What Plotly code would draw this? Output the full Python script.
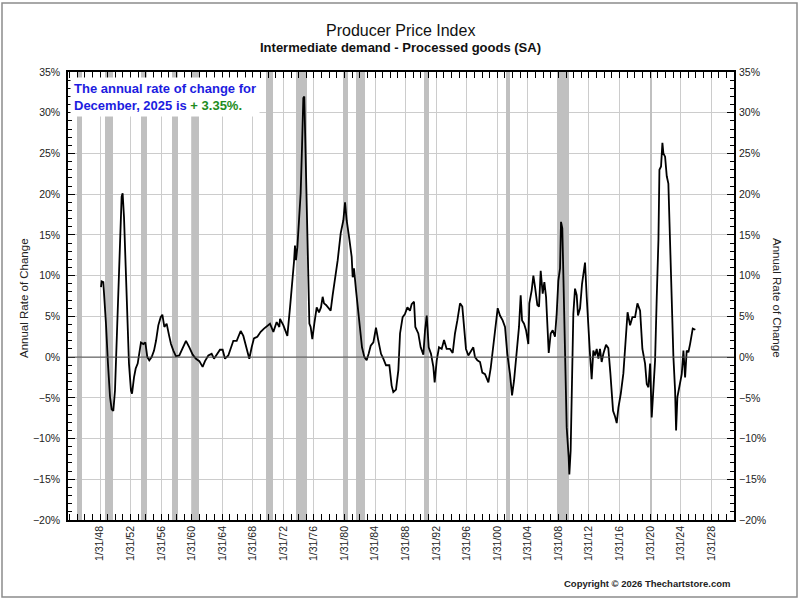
import plotly.graph_objects as go

# Annual rate of change (fractional years)
years = [
    1948.13, 1948.21, 1948.43, 1948.56, 1948.78, 1949.04, 1949.31, 1949.52, 1949.74, 1949.96,
    1950.18, 1950.40, 1950.61, 1950.83, 1950.96, 1951.14, 1951.36, 1951.57, 1951.79, 1952.05,
    1952.19, 1952.45, 1952.67, 1952.93, 1953.15, 1953.36, 1953.67, 1953.93, 1954.19, 1954.45,
    1954.76, 1955.07, 1955.33, 1955.63, 1955.94, 1956.16, 1956.42, 1956.72, 1957.03, 1957.29,
    1957.60, 1957.94, 1958.38, 1958.82, 1959.25, 1959.69, 1960.13, 1960.56, 1961.00, 1961.43,
    1961.74, 1962.18, 1962.61, 1962.92, 1963.35, 1963.70, 1964.05, 1964.36, 1964.79, 1965.14,
    1965.45, 1965.89, 1966.41, 1966.76, 1967.11, 1967.54, 1967.85, 1968.15, 1968.59, 1969.03,
    1969.46, 1969.90, 1970.25, 1970.69, 1971.12, 1971.47, 1971.56, 1972.00, 1972.52, 1972.87,
    1973.22, 1973.39, 1973.52, 1973.65, 1973.83, 1974.09, 1974.26, 1974.44, 1974.61, 1974.74,
    1974.87, 1975.05, 1975.22, 1975.40, 1975.57, 1975.79, 1976.05, 1976.36, 1976.66, 1976.92,
    1977.14, 1977.32, 1977.58, 1977.89, 1978.19, 1978.45, 1978.76, 1979.11, 1979.50, 1979.85,
    1980.07, 1980.28, 1980.59, 1980.94, 1981.07, 1981.24, 1981.51, 1981.81, 1982.03, 1982.29,
    1982.60, 1982.90, 1983.16, 1983.43, 1983.78, 1984.12, 1984.43, 1984.78, 1985.08, 1985.43,
    1985.87, 1986.17, 1986.39, 1986.74, 1987.05, 1987.27, 1987.61, 1987.92, 1988.23, 1988.57,
    1988.79, 1989.10, 1989.27, 1989.66, 1989.97, 1990.32, 1990.54, 1990.76, 1991.02, 1991.32,
    1991.63, 1991.80, 1992.07, 1992.37, 1992.72, 1993.03, 1993.37, 1993.81, 1994.16, 1994.46,
    1994.77, 1995.12, 1995.42, 1995.64, 1995.90, 1996.21, 1996.51, 1996.86, 1997.08, 1997.39,
    1997.74, 1998.04, 1998.39, 1998.83, 1999.13, 1999.48, 1999.79, 2000.05, 2000.35, 2000.70,
    2001.01, 2001.31, 2001.66, 2001.93, 2002.19, 2002.54, 2002.84, 2003.06, 2003.24, 2003.50,
    2003.76, 2004.06, 2004.19, 2004.50, 2004.72, 2004.94, 2005.24, 2005.46, 2005.68, 2005.94,
    2006.16, 2006.38, 2006.55, 2006.73, 2006.99, 2007.25, 2007.55, 2007.77, 2007.99, 2008.21,
    2008.34, 2008.51, 2008.64, 2008.82, 2009.08, 2009.34, 2009.43, 2009.60, 2009.78, 2009.95,
    2010.17, 2010.39, 2010.56, 2010.83, 2011.09, 2011.26, 2011.48, 2011.70, 2011.92, 2012.13,
    2012.35, 2012.57, 2012.79, 2013.01, 2013.23, 2013.44, 2013.66, 2013.88, 2014.23, 2014.53,
    2014.80, 2014.97, 2015.15, 2015.41, 2015.63, 2015.85, 2016.16, 2016.50, 2016.81, 2017.05,
    2017.38, 2017.68, 2018.03, 2018.34, 2018.69, 2018.99, 2019.34, 2019.56, 2019.78, 2020.00,
    2020.21, 2020.43, 2020.65, 2020.87, 2021.09, 2021.22, 2021.43, 2021.61, 2021.74, 2021.96,
    2022.18, 2022.39, 2022.61, 2022.83, 2023.05, 2023.27, 2023.40, 2023.57, 2023.83, 2024.14,
    2024.36, 2024.58, 2024.79, 2025.01, 2025.23, 2025.36, 2025.58, 2025.92,
]
rate = [
    8.6, 9.3, 9.2, 7.4, 4.1, -0.8, -4.9, -6.4, -6.6, -4.1,
    1.6, 8.2, 14.4, 19.7, 20.1, 17.2, 11.1, 4.9, -0.8, -4.1,
    -4.5, -2.5, -1.4, -0.8, 0.8, 1.8, 1.6, 1.8, 0.0, -0.4,
    0.0, 0.8, 2.0, 3.9, 4.9, 5.2, 3.7, 4.1, 2.7, 1.6,
    0.8, 0.1, 0.2, 1.2, 2.0, 1.2, 0.3, -0.2, -0.5, -1.2,
    -0.5, 0.2, 0.4, -0.2, 0.4, 0.9, 0.9, -0.2, 0.2, 1.2,
    2.0, 2.0, 3.2, 2.6, 1.4, -0.2, 1.2, 2.3, 2.5, 3.1,
    3.5, 3.9, 4.1, 3.1, 4.3, 3.7, 4.7, 3.9, 2.6, 6.1,
    9.4, 11.7, 13.7, 11.9, 13.5, 16.8, 20.1, 25.8, 31.8, 32.0,
    26.7, 19.7, 12.7, 4.1, 3.7, 2.2, 4.1, 6.1, 5.5, 6.1,
    7.4, 6.6, 6.4, 6.1, 5.7, 7.6, 9.4, 11.9, 15.2, 16.8,
    19.0, 16.8, 14.8, 12.3, 9.8, 10.9, 8.2, 5.3, 2.9, 1.2,
    0.0, -0.4, 0.4, 1.4, 1.8, 3.6, 2.0, 0.4, -0.2, -1.0,
    -1.0, -3.5, -4.3, -4.0, -1.6, 2.9, 4.9, 5.3, 6.1, 5.7,
    6.5, 6.8, 3.7, 2.9, 1.2, 0.3, 3.3, 5.1, 1.2, 0.4,
    -1.2, -3.1, -0.4, 1.2, 1.0, 2.1, 1.0, 1.0, 0.5, 2.9,
    4.5, 6.6, 6.2, 3.7, 1.0, 0.2, 0.6, 1.2, 0.0, -0.4,
    -0.6, -1.9, -2.1, -3.1, -1.4, 1.2, 3.7, 6.0, 5.1, 4.5,
    3.7, 0.4, -2.1, -4.7, -2.9, 1.0, 3.7, 7.6, 4.5, 4.1,
    3.3, 1.6, 6.6, 8.2, 10.0, 8.6, 6.4, 6.2, 10.6, 7.8,
    9.2, 7.4, 4.1, 0.5, 2.9, 3.3, 2.5, 5.3, 9.4, 10.9,
    16.6, 15.8, 10.3, 1.2, -8.6, -12.3, -14.4, -11.5, -1.2, 5.3,
    8.4, 7.6, 5.1, 6.0, 9.0, 10.5, 11.6, 7.4, 3.3, 0.4,
    -2.7, 0.8, 0.2, 1.0, -0.2, 1.0, -0.6, 0.4, 1.5, 1.1,
    -2.0, -4.5, -6.6, -7.3, -8.1, -6.2, -4.5, -2.0, 1.8, 5.5,
    3.9, 4.9, 4.9, 6.6, 5.7, 1.0, -0.8, -3.3, -3.7, -0.8,
    -7.4, -3.3, -0.4, 7.4, 14.4, 23.0, 23.4, 26.3, 25.0, 24.6,
    22.2, 21.3, 13.5, 6.6, 0.0, -4.1, -9.0, -4.9, -3.7, -2.1,
    0.8, -2.5, 0.8, 0.6, 1.6, 2.5, 3.5, 3.35,
]

# Recession periods (shaded bars)
rec_start = [1944.95, 1948.66, 1953.36, 1957.38, 1960.10, 1969.75, 1973.66,
             1979.85, 1981.45, 1990.40, 2001.08, 2007.84, 2019.98]
rec_end = [1945.60, 1949.66, 1954.20, 1958.16, 1960.98, 1970.70, 1975.05,
           1980.40, 1982.70, 1991.03, 2001.68, 2009.36, 2020.25]

tick_years = list(range(1948, 2029, 4))
tick_text = ["1/31/%02d" % (y % 100) for y in tick_years]

Y_MIN, Y_MAX = -20, 35

FONT = "Liberation Sans, Arial, sans-serif"
W, H = 800, 600
L, R, T, B = 68, 66, 72, 80


def px(x):
    return (x - L) / (W - L - R)


def py(y):
    return (H - B - y) / (H - T - B)


fig = go.Figure()

# recession shading as full-height bars
rec_mid = [(s + e) / 2 for s, e in zip(rec_start, rec_end)]
rec_width = [e - s for s, e in zip(rec_start, rec_end)]
fig.add_trace(go.Bar(x=rec_mid, width=rec_width,
                     y=[Y_MAX - Y_MIN] * len(rec_mid), base=Y_MIN,
                     marker=dict(color="#c0c0c0", line=dict(width=0)),
                     showlegend=False, hoverinfo="skip"))

fig.add_trace(go.Scatter(x=years, y=rate, mode="lines",
                         line=dict(color="black", width=1.8),
                         showlegend=False, hoverinfo="x+y"))
# invisible copy so the right-hand axis is drawn
fig.add_trace(go.Scatter(x=years, y=rate, mode="lines", yaxis="y2",
                         opacity=0, showlegend=False, hoverinfo="skip"))

tickfont = dict(family=FONT, size=10.5, color="#222")
fig.update_layout(
    width=W, height=H,
    margin=dict(l=L, r=R, t=T, b=B),
    paper_bgcolor="white", plot_bgcolor="white",
    font=dict(family=FONT),
    bargap=0,
    xaxis=dict(range=[1943.81, 2030.98], tickmode="array",
               tickvals=tick_years, ticktext=tick_text, tickangle=-90,
               tickfont=tickfont, ticks="inside", ticklen=6,
               tickcolor="black", showline=True, linecolor="black",
               linewidth=1.5, mirror="allticks", showgrid=True,
               gridcolor="#cccccc", gridwidth=1, zeroline=False,
               minor=dict(tickmode="linear", tick0=1944, dtick=1,
                          ticks="inside", ticklen=3, tickcolor="black")),
    yaxis=dict(range=[Y_MIN, Y_MAX], dtick=5, ticksuffix="%", tickfont=tickfont,
               ticks="inside", ticklen=7, tickcolor="black",
               showline=True, linecolor="black", linewidth=1.5, mirror=True,
               showgrid=True, gridcolor="#cccccc", gridwidth=1,
               zeroline=False, ticklabelstandoff=4,
               minor=dict(dtick=1, ticks="inside", ticklen=4,
                          tickcolor="black")),
    yaxis2=dict(range=[Y_MIN, Y_MAX], dtick=5, ticksuffix="%", tickfont=tickfont,
                overlaying="y", side="right", ticks="inside", ticklen=7,
                tickcolor="black", showgrid=False, zeroline=False,
                showline=False, ticklabelstandoff=4,
                minor=dict(dtick=1, ticks="inside", ticklen=4,
                           tickcolor="black")),
)

# zero line over the shading
fig.add_shape(type="line", xref="paper", yref="y", x0=0, x1=1, y0=0, y1=0,
              line=dict(color="#505050", width=1), layer="above")

fig.add_annotation(text="Producer Price Index", xref="paper", yref="paper",
                   x=px(400), y=py(30), xanchor="center", yanchor="middle",
                   showarrow=False,
                   font=dict(family=FONT, size=16, color="#111"))
fig.add_annotation(text="<b>Intermediate demand - Processed goods (SA)</b>",
                   xref="paper", yref="paper", x=px(400), y=py(48),
                   xanchor="center", yanchor="middle", showarrow=False,
                   font=dict(family=FONT, size=13, color="#111"))
fig.add_annotation(text="Annual Rate of Change", xref="paper", yref="paper",
                   x=px(24), y=py(298), xanchor="center", yanchor="middle",
                   textangle=-90, showarrow=False,
                   font=dict(family=FONT, size=11.5, color="#222"))
fig.add_annotation(text="Annual Rate of Change", xref="paper", yref="paper",
                   x=px(777), y=py(298), xanchor="center", yanchor="middle",
                   textangle=90, showarrow=False,
                   font=dict(family=FONT, size=11.5, color="#222"))
fig.add_annotation(text="<b>Copyright © 2026 Thechartstore.com</b>",
                   xref="paper", yref="paper", x=px(732), y=py(583),
                   xanchor="right", yanchor="middle", showarrow=False,
                   font=dict(family=FONT, size=9.5, color="#222"))
fig.add_annotation(
    text="<b>The annual rate of change for<br>December, 2025 is "
         "<span style='color:#1e8c1e'>+ 3.35%.</span></b>",
    xref="paper", yref="paper", x=px(70), y=py(77),
    xanchor="left", yanchor="top", align="left", showarrow=False,
    bgcolor="white", borderpad=3,
    font=dict(family=FONT, size=13, color="#1c1ce0"))

# outer frame
fig.add_shape(type="rect", xref="paper", yref="paper",
              x0=px(2), x1=px(797), y0=py(597), y1=py(3),
              line=dict(color="#8c8c8c", width=1.5))

fig.write_html("out.html", config={"displayModeBar": False},
               post_script="document.body.style.margin='0';")
